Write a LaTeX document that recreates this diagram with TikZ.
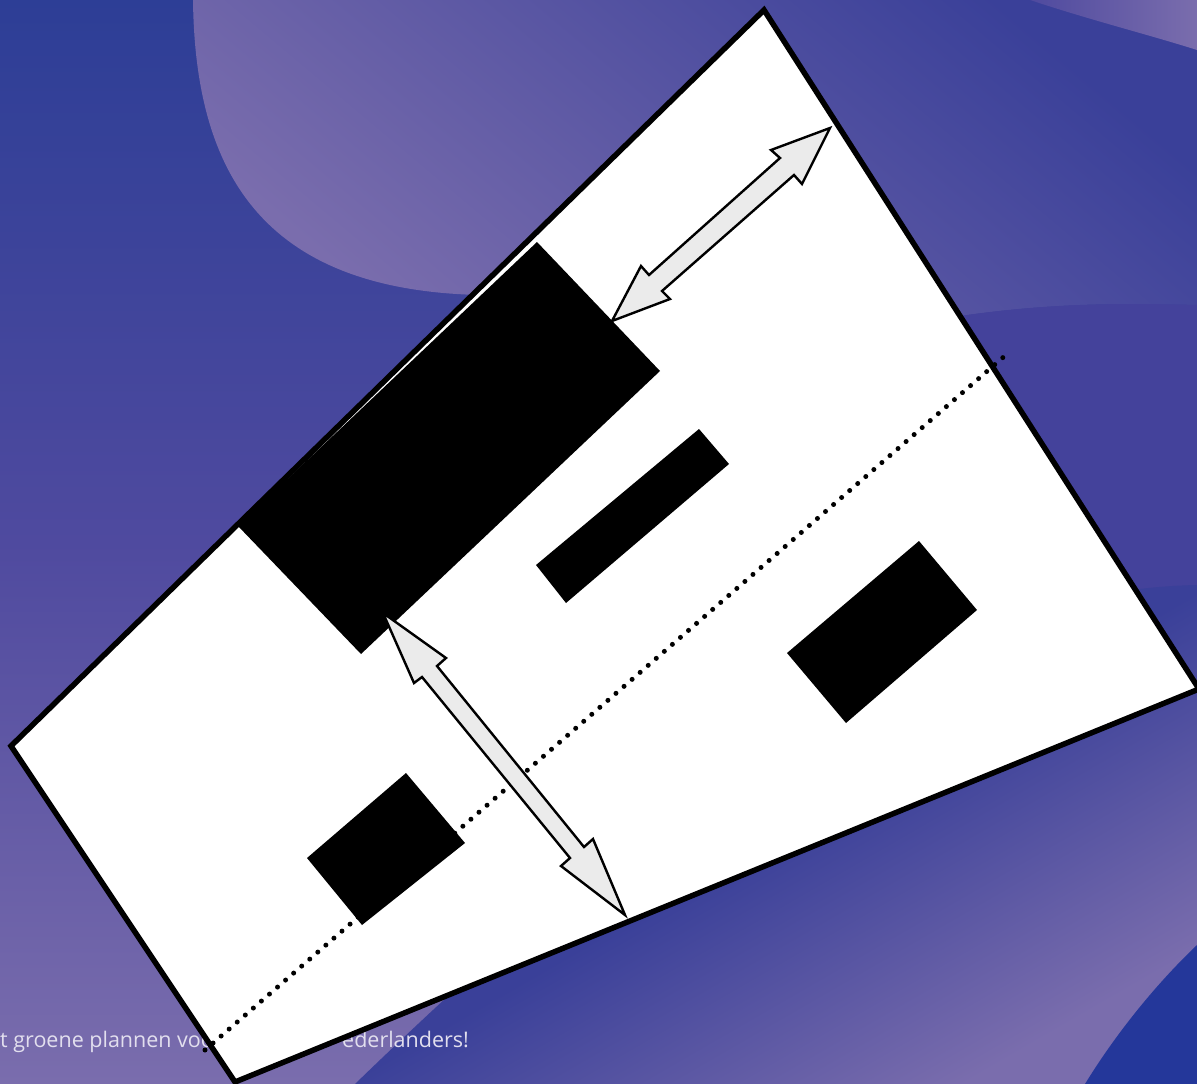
\documentclass[tikz,border=0pt]{standalone}
\usepackage{fontspec}
\setmainfont{Open Sans}
\definecolor{bgblue}{HTML}{2D3E96}
\definecolor{bgmid}{HTML}{4F4A9F}
\definecolor{bglight}{HTML}{7A6DAD}
\definecolor{bgdeep}{HTML}{24379A}
\definecolor{bgdark}{HTML}{3A4099}
\definecolor{bgband}{HTML}{44429B}
\definecolor{arrowgrey}{HTML}{EBEBEB}
\definecolor{slogancol}{HTML}{E2DFEE}
\tikzset{
	slogan/.style={text=slogancol, inner sep=0pt, anchor=base west, font=\fontsize{21.5}{21.5}\selectfont},
	plot/.style={draw=black, fill=white, line width=5.5pt, line join=miter},
	block/.style={fill=black},
	span/.style={draw=black, fill=arrowgrey, line width=2.4pt, line join=miter},
	axisline/.style={line width=5pt, line cap=round, dash pattern=on 0pt off 10.67pt}
}
\begin{document}
\begin{tikzpicture}[x=1pt, y=-1pt]
	\useasboundingbox (0, 0) rectangle (1197, 1084);
	\clip (0, 0) rectangle (1197, 1084);
	\shade[top color=bgblue, bottom color=bglight, middle color=bgmid] (0, 0) rectangle (1197, 1084);
	\shade[left color=bglight, right color=bgdark, shading angle=140] (193, 0) .. controls (195, 170) and (260, 290) .. (480, 295) -- (960, 316) .. controls (1050, 303) and (1120, 303) .. (1197, 305) -- (1197, 0) -- cycle;
	\shade[left color=bgmid, right color=bglight] (1030, 0) .. controls (1090, 20) and (1150, 35) .. (1197, 50) -- (1197, 0) -- cycle;
	\fill[bgband] (960, 316) .. controls (1050, 303) and (1120, 303) .. (1197, 305) -- (1197, 585) -- (1000, 640) -- cycle;
	\shade[left color=bgdark, right color=bglight, middle color=bgdark, shading angle=30] (355, 1084) .. controls (700, 750) and (950, 590) .. (1197, 585) -- (1197, 1084) -- cycle;
	\fill[bgdeep] (1197, 945) .. controls (1155, 985) and (1115, 1035) .. (1085, 1084) -- (1197, 1084) -- cycle;
	\node[slogan] (sloganl) at (0, 1047) {t groene plannen voo};
	\node[slogan] (sloganr) at (342, 1047) {ederlanders!};
	\draw[plot] (764, 10) -- (1199, 689) -- (235, 1082) -- (11, 746) -- cycle;
	\coordinate (axisa) at (205, 1050);
	\coordinate (axisb) at (1003.5, 357);
	\draw[axisline] (axisa) -- (axisb);
	\fill[block] (537, 242) -- (660, 371) -- (361, 654) -- (238, 526) -- cycle;
	\fill[block] (699, 429) -- (729, 464) -- (566, 603) -- (536, 565) -- cycle;
	\fill[block] (919, 541) -- (977, 610) -- (846, 723) -- (787, 653) -- cycle;
	\fill[block] (406, 773) -- (465, 843) -- (362, 925) -- (307, 858) -- cycle;
	\draw[span] (612, 321) -- (641, 266) -- (649, 275) -- (780, 158) -- (771, 150) -- (830, 128) -- (802, 184) -- (794, 175) -- (662, 291) -- (670, 299) -- cycle;
	\draw[span] (383, 613) -- (446, 658) -- (437, 666) -- (584, 847) -- (593, 839) -- (625, 915) -- (561, 866) -- (570, 858) -- (422, 677) -- (414, 683) -- cycle;
\end{tikzpicture}
\end{document}
